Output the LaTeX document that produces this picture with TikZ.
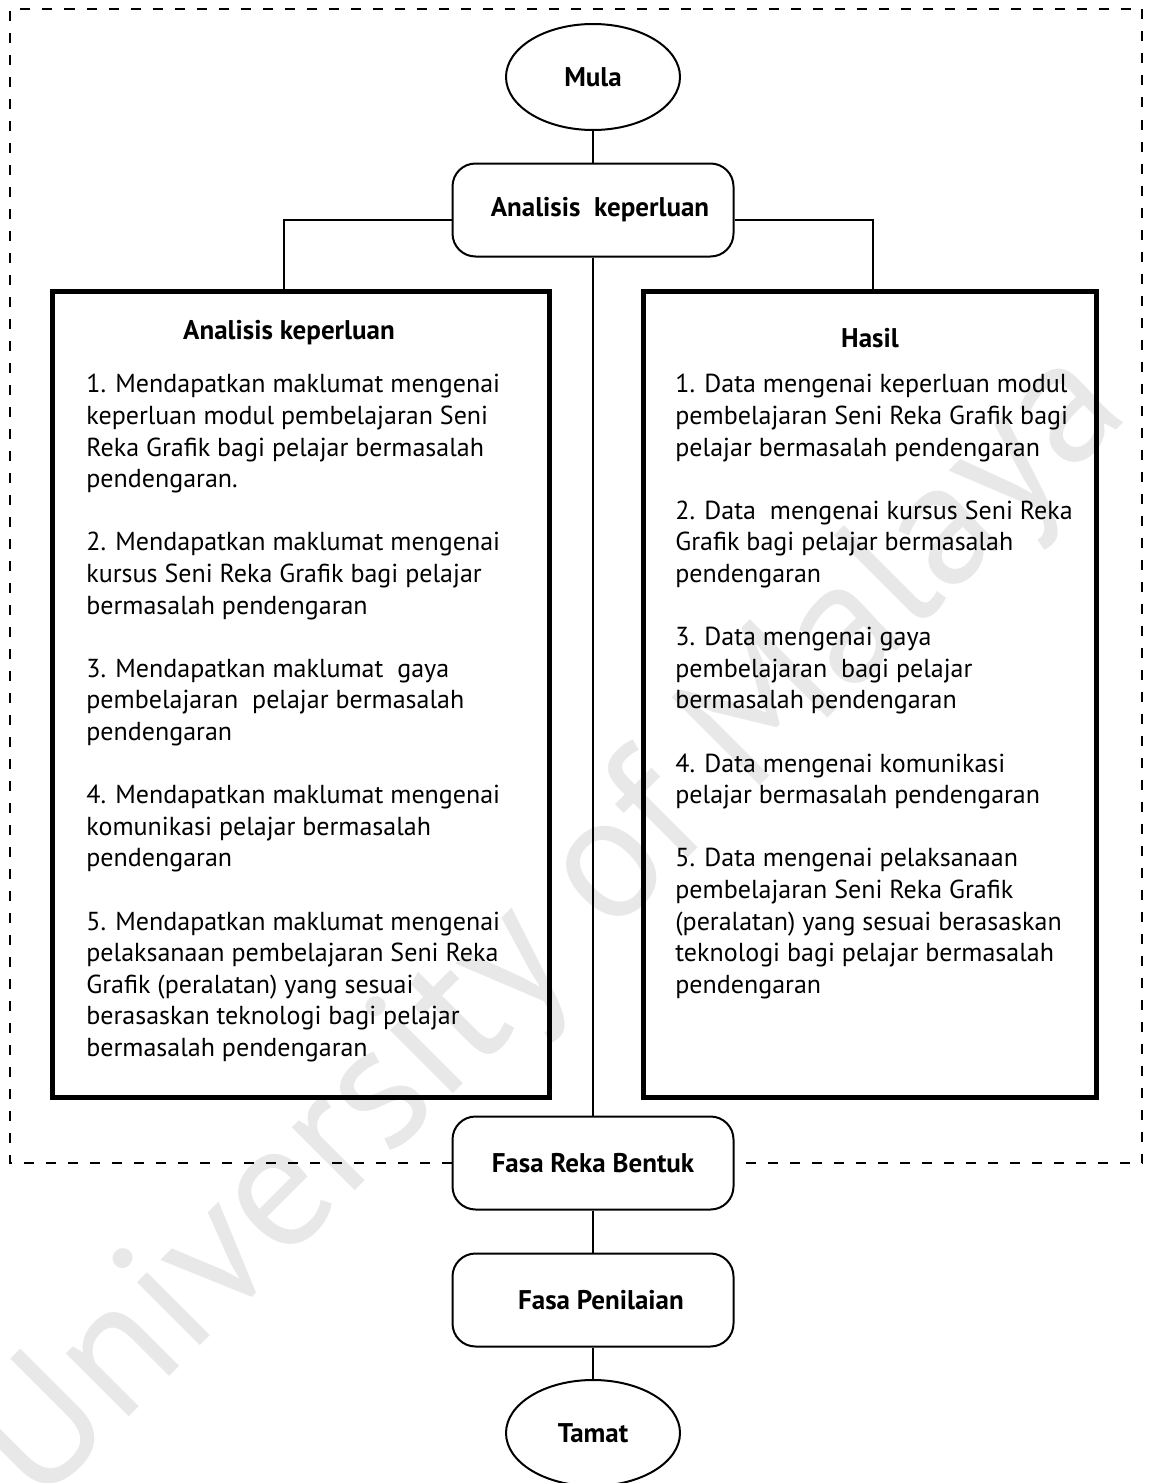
\documentclass[tikz,border=0pt]{standalone}
\usepackage{fontspec}
\setmainfont{PT Sans}
\usetikzlibrary{shapes.geometric}

\tikzset{
  langkah/.style={draw,line width=1pt,rounded corners=11.5pt,minimum width=140.5pt,minimum height=46.5pt,inner sep=0pt,font=\bfseries\fontsize{13.5}{16}\selectfont},
  hujung/.style={draw,ellipse,line width=1pt,minimum width=87pt,minimum height=53pt,inner sep=0pt,font=\bfseries\fontsize{13.5}{16}\selectfont},
  kotak/.style={draw,line width=2.5pt,inner sep=0pt,minimum height=403pt},
  tajuk/.style={font=\bfseries\fontsize{13.5}{16}\selectfont,inner sep=0pt},
  isi/.style={align=left,anchor=north west,inner sep=0pt,font=\fontsize{13}{15.8}\selectfont},
  garis/.style={line width=0.75pt},
  bingkai/.style={line width=0.75pt,dash pattern=on 5pt off 6pt}
}

\begin{document}
\begin{tikzpicture}[x=0.5pt,y=-0.5pt,line cap=butt,line join=miter]
  \useasboundingbox (0,0) rectangle (1148,1483);
  % tera air
  \node[rotate=45,text=black!9,font=\fontsize{89}{94}\selectfont,inner sep=0pt] (tera) at (553,930) {University of Malaya};
  % aliran utama
  \node[hujung] (mula) at (593,77) {Mula};
  \node[langkah] (ak) at (593,210) {\hspace{7pt}Analisis\ \ keperluan};
  \node[langkah] (rb) at (593,1163) {Fasa Reka Bentuk};
  \node[langkah] (pn) at (593,1300) {\hspace{8pt}Fasa Penilaian};
  \node[hujung] (tamat) at (593,1433) {Tamat};
  % dua kotak
  \node[kotak,minimum width=248.5pt] (kiri) at (300.5,694) {};
  \node[kotak,minimum width=226.5pt] (kanan) at (869.5,694) {};
  \coordinate (cKiri) at (284,220);
  \coordinate (cKanan) at (873,220);
  \node[tajuk] (tKiri) at (289,333) {Analisis keperluan};
  \node[tajuk] (tKanan) at (870,338) {Hasil};
  \node[isi] (sKiri) at (86,374) {1. Mendapatkan maklumat mengenai\\
    keperluan modul pembelajaran Seni\\
    Reka Grafik bagi pelajar bermasalah\\
    pendengaran.\\[15.8pt]
    2. Mendapatkan maklumat mengenai\\
    kursus Seni Reka Grafik bagi pelajar\\
    bermasalah pendengaran\\[15.8pt]
    3. Mendapatkan maklumat\ \ gaya\\
    pembelajaran\ \ pelajar bermasalah\\
    pendengaran\\[15.8pt]
    4. Mendapatkan maklumat mengenai\\
    komunikasi pelajar bermasalah\\
    pendengaran\\[15.8pt]
    5. Mendapatkan maklumat mengenai\\
    pelaksanaan pembelajaran Seni Reka\\
    Grafik (peralatan) yang sesuai\\
    berasaskan teknologi bagi pelajar\\
    bermasalah pendengaran};
  \node[isi] (sKanan) at (675,374) {1. Data mengenai keperluan modul\\
    pembelajaran Seni Reka Grafik bagi\\
    pelajar bermasalah pendengaran\\[15.8pt]
    2. Data\ \ mengenai kursus Seni Reka\\
    Grafik bagi pelajar bermasalah\\
    pendengaran\\[15.8pt]
    3. Data mengenai gaya\\
    pembelajaran\ \ bagi pelajar\\
    bermasalah pendengaran\\[15.8pt]
    4. Data mengenai komunikasi\\
    pelajar bermasalah pendengaran\\[15.8pt]
    5. Data mengenai pelaksanaan\\
    pembelajaran Seni Reka Grafik\\
    (peralatan) yang sesuai berasaskan\\
    teknologi bagi pelajar bermasalah\\
    pendengaran};
  % penyambung
  \draw[garis] (mula) -- (ak);
  \draw[garis] (ak) -- (rb);
  \draw[garis] (rb) -- (pn);
  \draw[garis] (pn) -- (tamat);
  \draw[garis] (ak.west |- cKiri) -- (cKiri) -- (cKiri |- kiri.north);
  \draw[garis] (ak.east |- cKanan) -- (cKanan) -- (cKanan |- kanan.north);
  % bingkai putus-putus
  \draw[bingkai] (rb.west) -- (10,1163) -- (10,9) -- (1142,9) -- (1142,1163) -- (rb.east);
\end{tikzpicture}
\end{document}
